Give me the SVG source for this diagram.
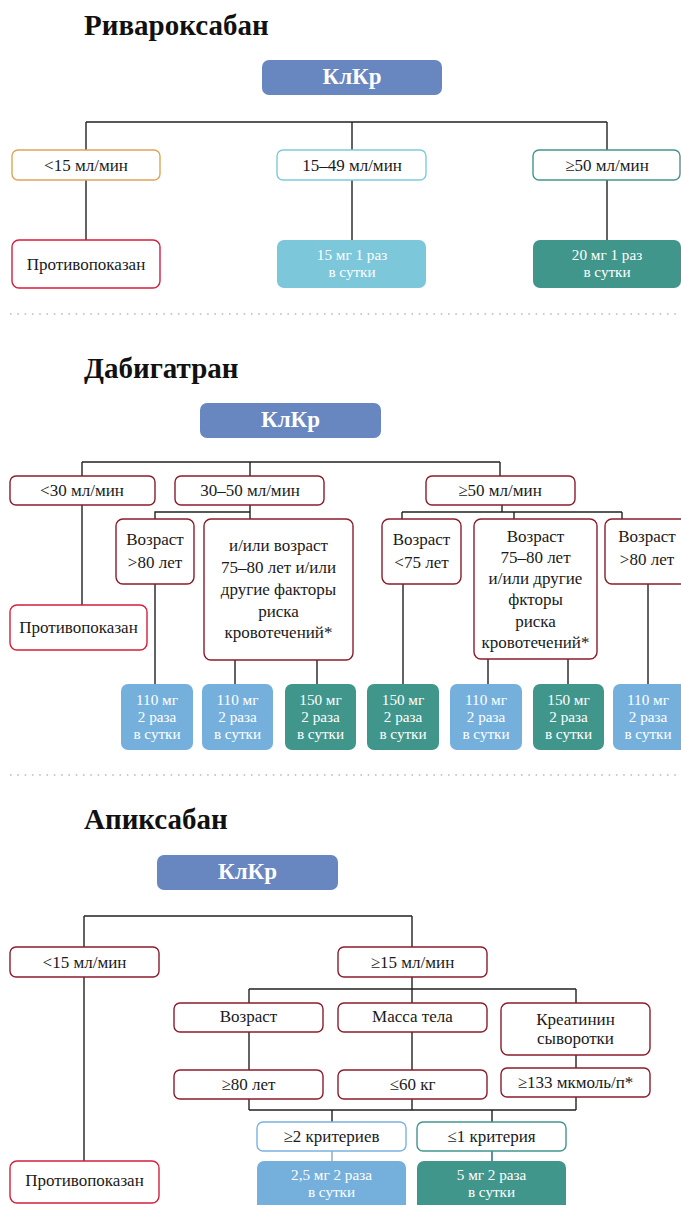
<svg xmlns="http://www.w3.org/2000/svg" width="681" height="1205" viewBox="0 0 681 1205">
<defs>
<style>
text{font-family:"Liberation Serif","DejaVu Serif",serif;font-size:17px;fill:#1a1a1a;text-anchor:middle}
.title{font-size:29px;font-weight:bold;text-anchor:start;fill:#111}
.kl{font-size:23px;font-weight:bold;fill:#fff}
.w{fill:#fff;font-size:15.2px}
.klbox{fill:#6886c0}
.b{fill:#fff;stroke-width:1.4}
.dr{stroke:#8a1c2c}
.cr{stroke:#d51f3d}
.or{stroke:#e0a458}
.lb{stroke:#7ecbdc}
.tl{stroke:#41968c}
.bl{stroke:#7ab3e0}
.fteal{fill:#41968c}
.flb{fill:#7cc7da}
.fbl{fill:#75b0dc}
.ln{fill:none;stroke:#222;stroke-width:1.4}
.dots{stroke:#bbb;stroke-width:1.6;stroke-dasharray:1.6 5.7}
</style>
</defs>

<!-- Separators -->
<line class="dots" x1="10" y1="314" x2="681" y2="314"/>
<line class="dots" x1="10" y1="775" x2="681" y2="775"/>

<text class="title" x="84" y="35">Ривароксабан</text>
<text class="title" x="84" y="378">Дабигатран</text>
<text class="title" x="84" y="829">Апиксабан</text>

<g id="connectors">
<!-- rivaroxaban -->
<path class="ln" d="M86 122H607M86 122V150M86 180V240M352 122V150M352 180V240M607 122V150M607 180V240"/>
<!-- dabigatran -->
<path class="ln" d="M82 462H500M82 462V476M250 462V476M500 462V476M82 505V605M250 505V519M250 512H155V519M155 584V684M235 660V684M317 660V684"/>
<path class="ln" d="M502 505V512M402 512H622M402 512V519M514 512V519M622 512V519M403 584V684M488 659V684M568 659V684M648 584V684"/>
<!-- apixaban -->
<path class="ln" d="M84 916H412M84 916V947M412 916V947M84 977V1161M412 977V989M249 989H576M249 989V1003M412 989V1003M576 989V1003M249 1032V1070M412 1032V1070M576 1055V1068M249 1099V1110M412 1099V1110M576 1097V1110M249 1110H576M332 1110V1122M492 1110V1122"/>
<line x1="332" y1="1151" x2="332" y2="1161" stroke="#8aa6c4" stroke-width="1.4"/>
<line x1="492" y1="1151" x2="492" y2="1161" stroke="#1f5f8f" stroke-width="1.4"/>
</g>

<!-- ===== Rivaroxaban ===== -->
<g id="riva-klkr"><rect class="klbox" x="262" y="60" width="180" height="35" rx="7"/><text class="kl" x="352" y="84">КлКр</text></g>
<g id="riva-lt15"><rect class="b or" x="12" y="150" width="148" height="30" rx="6"/><text x="86" y="170.5">&lt;15 мл/мин</text></g>
<g id="riva-15-49"><rect class="b lb" x="277" y="150" width="149" height="30" rx="6"/><text x="352" y="170.5">15–49 мл/мин</text></g>
<g id="riva-ge50"><rect class="b tl" x="533" y="150" width="147" height="30" rx="6"/><text x="607" y="170.5">≥50 мл/мин</text></g>
<g id="riva-contra"><rect class="b cr" x="12" y="240" width="148" height="48" rx="7"/><text x="86" y="270">Противопоказан</text></g>
<g id="riva-15mg"><rect class="flb" x="277" y="240" width="149" height="48" rx="7"/><text class="w" x="352" y="259.5">15 мг 1 раз</text><text class="w" x="352" y="276.5">в сутки</text></g>
<g id="riva-20mg"><rect class="fteal" x="533" y="240" width="148" height="48" rx="7"/><text class="w" x="607" y="259.5">20 мг 1 раз</text><text class="w" x="607" y="276.5">в сутки</text></g>

<!-- ===== Dabigatran ===== -->
<g id="dabi-klkr"><rect class="klbox" x="200" y="403" width="181" height="35" rx="7"/><text class="kl" x="290.5" y="427">КлКр</text></g>
<g id="dabi-lt30"><rect class="b dr" x="10" y="476" width="145" height="29" rx="6"/><text x="82" y="496">&lt;30 мл/мин</text></g>
<g id="dabi-30-50"><rect class="b dr" x="175" y="476" width="149" height="29" rx="6"/><text x="250" y="496">30–50 мл/мин</text></g>
<g id="dabi-ge50"><rect class="b dr" x="426" y="476" width="149" height="29" rx="6"/><text x="500" y="496">≥50 мл/мин</text></g>
<g id="dabi-contra"><rect class="b cr" x="10" y="605" width="137" height="45" rx="7"/><text x="78.5" y="633">Противопоказан</text></g>
<g id="dabi-age80a"><rect class="b dr" x="116" y="519" width="78" height="65" rx="7"/><text x="155" y="545">Возраст</text><text x="155" y="568">&gt;80 лет</text></g>
<g id="dabi-orage"><rect class="b dr" x="204" y="519" width="149" height="141" rx="7"/><text x="278.5" y="551">и/или возраст</text><text x="278.5" y="573">75–80 лет и/или</text><text x="278.5" y="595">другие факторы</text><text x="278.5" y="617">риска</text><text x="278.5" y="638">кровотечений*</text></g>
<g id="dabi-age75"><rect class="b dr" x="382" y="519" width="79" height="65" rx="7"/><text x="421.5" y="545">Возраст</text><text x="421.5" y="568">&lt;75 лет</text></g>
<g id="dabi-age7580"><rect class="b dr" x="474" y="519" width="123" height="140" rx="7"/><text x="535.5" y="542">Возраст</text><text x="535.5" y="563">75–80 лет</text><text x="535.5" y="584">и/или другие</text><text x="535.5" y="605">фкторы</text><text x="535.5" y="627">риска</text><text x="535.5" y="648">кровотечений*</text></g>
<g id="dabi-age80b"><rect class="b dr" x="605" y="519" width="84" height="65" rx="7"/><text x="647" y="542">Возраст</text><text x="647" y="565">&gt;80 лет</text></g>
<g id="dabi-d1"><rect class="fbl" x="121" y="684" width="72" height="66" rx="7"/><text class="w" x="157" y="704.5">110 мг</text><text class="w" x="157" y="721.5">2 раза</text><text class="w" x="157" y="738.5">в сутки</text></g>
<g id="dabi-d2"><rect class="fbl" x="202" y="684" width="71" height="66" rx="7"/><text class="w" x="237.5" y="704.5">110 мг</text><text class="w" x="237.5" y="721.5">2 раза</text><text class="w" x="237.5" y="738.5">в сутки</text></g>
<g id="dabi-d3"><rect class="fteal" x="285" y="684" width="71" height="66" rx="7"/><text class="w" x="320.5" y="704.5">150 мг</text><text class="w" x="320.5" y="721.5">2 раза</text><text class="w" x="320.5" y="738.5">в сутки</text></g>
<g id="dabi-d4"><rect class="fteal" x="367" y="684" width="72" height="66" rx="7"/><text class="w" x="403" y="704.5">150 мг</text><text class="w" x="403" y="721.5">2 раза</text><text class="w" x="403" y="738.5">в сутки</text></g>
<g id="dabi-d5"><rect class="fbl" x="450" y="684" width="72" height="66" rx="7"/><text class="w" x="486" y="704.5">110 мг</text><text class="w" x="486" y="721.5">2 раза</text><text class="w" x="486" y="738.5">в сутки</text></g>
<g id="dabi-d6"><rect class="fteal" x="533" y="684" width="71" height="66" rx="7"/><text class="w" x="568.5" y="704.5">150 мг</text><text class="w" x="568.5" y="721.5">2 раза</text><text class="w" x="568.5" y="738.5">в сутки</text></g>
<g id="dabi-d7"><rect class="fbl" x="613" y="684" width="76" height="66" rx="7"/><text class="w" x="648" y="704.5">110 мг</text><text class="w" x="648" y="721.5">2 раза</text><text class="w" x="648" y="738.5">в сутки</text></g>

<!-- ===== Apixaban ===== -->
<g id="apix-klkr"><rect class="klbox" x="157" y="855" width="181" height="35" rx="7"/><text class="kl" x="247.5" y="879">КлКр</text></g>
<g id="apix-lt15"><rect class="b dr" x="10" y="947" width="149" height="30" rx="6"/><text x="84.5" y="967.5">&lt;15 мл/мин</text></g>
<g id="apix-ge15"><rect class="b dr" x="338" y="947" width="149" height="30" rx="6"/><text x="412.5" y="967.5">≥15 мл/мин</text></g>
<g id="apix-contra"><rect class="b cr" x="10" y="1161" width="149" height="42" rx="7"/><text x="84.5" y="1186">Противопоказан</text></g>
<g id="apix-age"><rect class="b dr" x="174" y="1003" width="149" height="29" rx="6"/><text x="248.5" y="1022">Возраст</text></g>
<g id="apix-mass"><rect class="b dr" x="338" y="1003" width="149" height="29" rx="6"/><text x="412.5" y="1022">Масса тела</text></g>
<g id="apix-creat"><rect class="b dr" x="501" y="1003" width="149" height="52" rx="7"/><text x="575.5" y="1025">Креатинин</text><text x="575.5" y="1044">сыворотки</text></g>
<g id="apix-ge80"><rect class="b dr" x="174" y="1070" width="149" height="29" rx="6"/><text x="248.5" y="1090">≥80 лет</text></g>
<g id="apix-le60"><rect class="b dr" x="338" y="1070" width="149" height="29" rx="6"/><text x="412.5" y="1090">≤60 кг</text></g>
<g id="apix-ge133"><rect class="b dr" x="501" y="1068" width="149" height="29" rx="6"/><text x="575.5" y="1088">≥133 мкмоль/п*</text></g>
<g id="apix-ge2"><rect class="b bl" x="257" y="1122" width="149" height="29" rx="6"/><text x="331.5" y="1141.5">≥2 критериев</text></g>
<g id="apix-le1"><rect class="b tl" x="417" y="1122" width="149" height="29" rx="6"/><text x="491.5" y="1141.5">≤1 критерия</text></g>
<g id="apix-25mg"><rect class="fbl" x="257" y="1161" width="149" height="50" rx="7"/><text class="w" x="331.5" y="1180">2,5 мг 2 раза</text><text class="w" x="331.5" y="1197">в сутки</text></g>
<g id="apix-5mg"><rect class="fteal" x="417" y="1161" width="149" height="50" rx="7"/><text class="w" x="491.5" y="1180">5 мг 2 раза</text><text class="w" x="491.5" y="1197">в сутки</text></g>
</svg>
